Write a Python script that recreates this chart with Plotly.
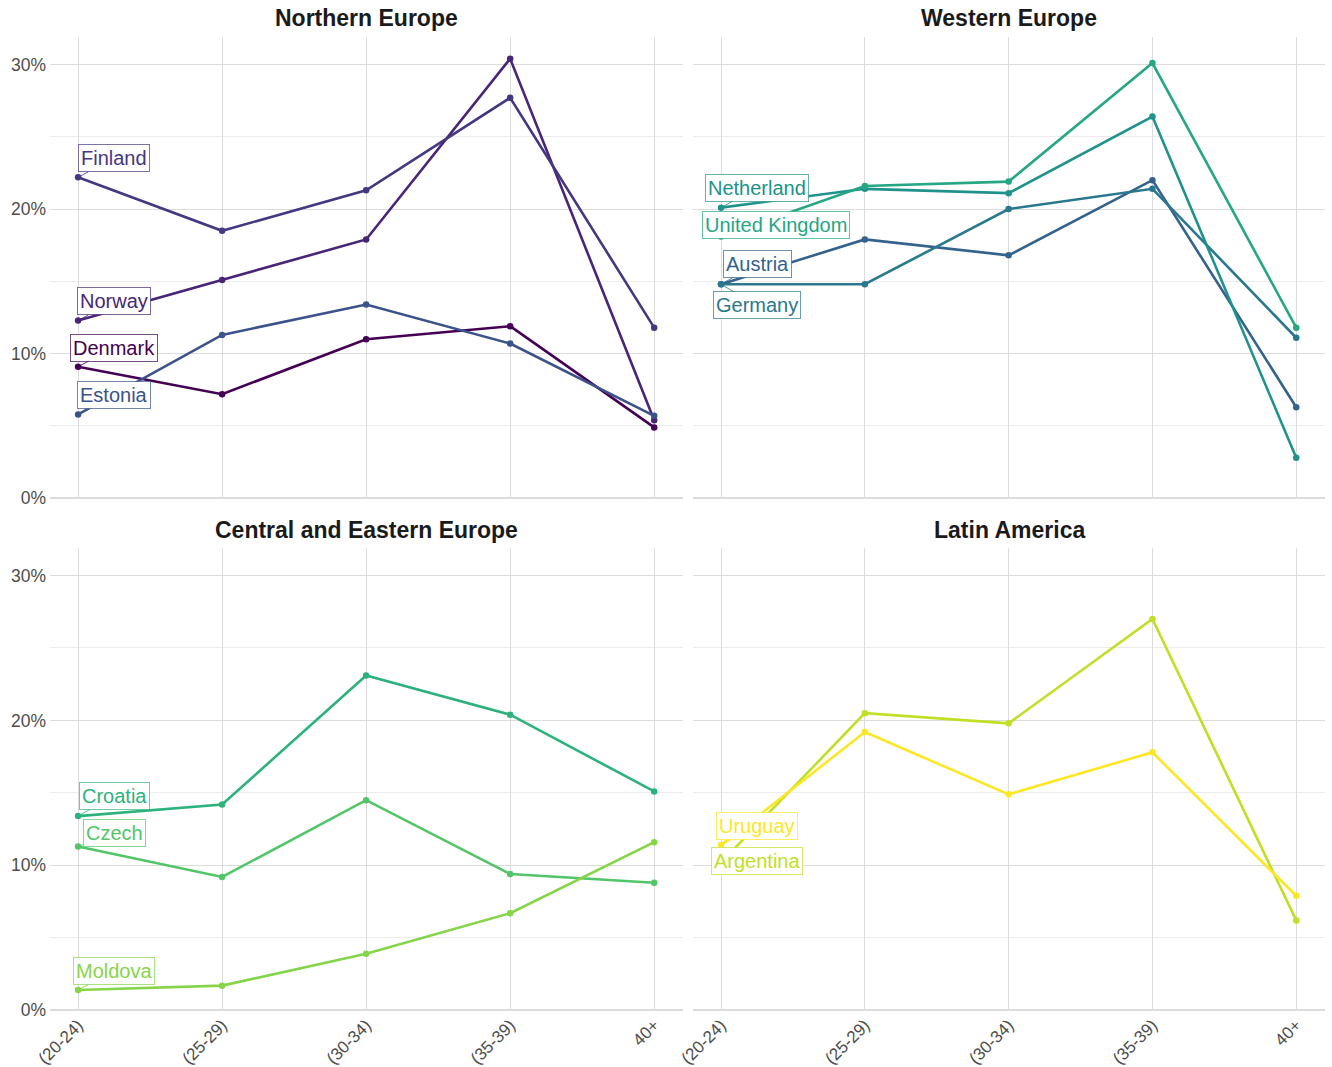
import plotly.graph_objects as go

# Age groups on the x axis
age_groups = ["(20-24)", "(25-29)", "(30-34)", "(35-39)", "40+"]

# Share (%) per age group, by country
denmark = [9.1, 7.2, 11.0, 11.9, 4.9]
norway = [12.3, 15.1, 17.9, 30.4, 5.4]
finland = [22.2, 18.5, 21.3, 27.7, 11.8]
estonia = [5.8, 11.3, 13.4, 10.7, 5.7]

austria = [14.8, 17.9, 16.8, 22.0, 6.3]
germany = [14.8, 14.8, 20.0, 21.4, 11.1]
netherland = [20.1, 21.4, 21.1, 26.4, 2.8]
united_kingdom = [18.1, 21.6, 21.9, 30.1, 11.8]

croatia = [13.4, 14.2, 23.1, 20.4, 15.1]
czech = [11.3, 9.2, 14.5, 9.4, 8.8]
moldova = [1.4, 1.7, 3.9, 6.7, 11.6]

argentina = [10.2, 20.5, 19.8, 27.0, 6.2]
uruguay = [11.4, 19.2, 14.9, 17.8, 7.9]

y_ticks = [0, 10, 20, 30]
y_tick_labels = ["0%", "10%", "20%", "30%"]

# Panels: (title, [(country, values)])
panels = [
    ("Northern Europe", [("Denmark", denmark), ("Norway", norway),
                         ("Finland", finland), ("Estonia", estonia)]),
    ("Western Europe", [("Austria", austria), ("Germany", germany),
                        ("Netherland", netherland), ("United Kingdom", united_kingdom)]),
    ("Central and Eastern Europe", [("Croatia", croatia), ("Czech", czech),
                                    ("Moldova", moldova)]),
    ("Latin America", [("Argentina", argentina), ("Uruguay", uruguay)]),
]

colors = {
    "Denmark": "#440154", "Norway": "#482576", "Finland": "#453781",
    "Estonia": "#3b528b", "Austria": "#33638d", "Germany": "#2a788e",
    "Netherland": "#20928c", "United Kingdom": "#25a784", "Croatia": "#2db27d",
    "Czech": "#52c569", "Moldova": "#86d549", "Argentina": "#c0df25",
    "Uruguay": "#fde725",
}

# Pixel offsets of each repelled label from its first point
label_offsets = {
    "Finland": (36, -19), "Norway": (36, -19), "Denmark": (36, -19),
    "Estonia": (36, -19), "Netherland": (36, -20), "United Kingdom": (55, -12),
    "Austria": (36, -20), "Germany": (36, 21), "Croatia": (36, -20),
    "Czech": (36, -14), "Moldova": (36, -19), "Uruguay": (36, -19),
    "Argentina": (36, -1),
}

W, H = 1332, 1067
x_domains = [(50 / W, 683 / W), (693 / W, 1325 / W)]
y_domains = [(1 - 499 / H, 1 - 37 / H), (1 - 1011 / H, 1 - 548 / H)]

FONT = "Liberation Sans, Arial, Helvetica, sans-serif"
GRID = "#dcdcdc"
MINOR = "#ececec"


def rgba(hex_color, a):
    h = hex_color.lstrip("#")
    r, g, b = int(h[0:2], 16), int(h[2:4], 16), int(h[4:6], 16)
    return f"rgba({r},{g},{b},{a})"


fig = go.Figure()
layout = {}
annotations = []

for i, (title, series) in enumerate(panels):
    row, col = divmod(i, 2)
    n = i + 1
    xa = "x" if n == 1 else f"x{n}"
    ya = "y" if n == 1 else f"y{n}"
    xkey = "xaxis" if n == 1 else f"xaxis{n}"
    ykey = "yaxis" if n == 1 else f"yaxis{n}"

    for name, vals in series:
        c = colors[name]
        fig.add_trace(go.Scatter(
            x=age_groups, y=vals, mode="lines+markers", name=name,
            line=dict(color=c, width=2.6), marker=dict(color=c, size=6.5),
            xaxis=xa, yaxis=ya, showlegend=False, hoverinfo="x+y+name",
        ))
        ax, ay = label_offsets[name]
        annotations.append(dict(
            x=age_groups[0], y=vals[0], xref=xa, yref=ya,
            text=name, showarrow=True, arrowhead=0, arrowwidth=1,
            arrowcolor=rgba(c, 0.8), ax=ax, ay=ay, standoff=0,
            font=dict(family=FONT, size=20, color=c),
            bgcolor="white", bordercolor=rgba(c, 0.7), borderwidth=1,
            borderpad=2,
        ))

    layout[xkey] = dict(
        domain=list(x_domains[col]), anchor=ya, automargin=False,
        type="category", categoryorder="array", categoryarray=age_groups,
        range=[-0.195, 4.2], showgrid=True, gridcolor=GRID, gridwidth=1.2,
        showline=False, zeroline=False, ticks="",
        showticklabels=(row == 1), tickangle=-45,
        tickfont=dict(family=FONT, size=17, color="#4d4d4d"),
    )
    layout[ykey] = dict(
        domain=list(y_domains[row]), anchor=xa, automargin=False,
        range=[-0.05, 31.9], tickmode="array", tickvals=y_ticks,
        ticktext=y_tick_labels, ticklabelstandoff=3,
        showgrid=True, gridcolor=GRID, gridwidth=1.2,
        zeroline=True, zerolinecolor=GRID, zerolinewidth=1.6,
        minor=dict(tickvals=[5, 15, 25], showgrid=True, gridcolor=MINOR, gridwidth=1),
        showline=False, ticks="", showticklabels=(col == 0),
        tickfont=dict(family=FONT, size=17.5, color="#4d4d4d"),
    )

    xc = (x_domains[col][0] + x_domains[col][1]) / 2
    ty = 1 - (18 if row == 0 else 530) / H
    annotations.append(dict(
        x=xc, y=ty, xref="paper", yref="paper", text=f"<b>{title}</b>",
        showarrow=False, xanchor="center", yanchor="middle",
        font=dict(family=FONT, size=23, color="#1a1a1a"),
    ))

fig.update_layout(
    width=W, height=H, margin=dict(l=0, r=0, t=0, b=0),
    paper_bgcolor="white", plot_bgcolor="white",
    annotations=annotations, **layout,
)

fig.write_html("out.html")
